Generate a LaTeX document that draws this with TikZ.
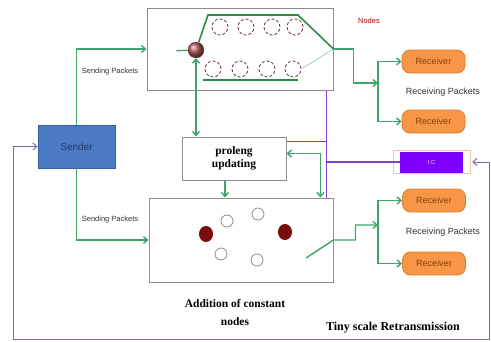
\documentclass[tikz,border=0pt]{standalone}
\usepackage{fontspec}
\setmainfont{Liberation Serif}
\setsansfont{Liberation Sans}
\usepackage{xcolor}
\usetikzlibrary{arrows.meta, positioning, calc}
\definecolor{sblue}{HTML}{4A7BC4}
\definecolor{sbluedark}{HTML}{35609E}
\definecolor{stext}{HTML}{1F3A66}
\definecolor{rorange}{HTML}{F79646}
\definecolor{rorangedark}{HTML}{E07C2A}
\definecolor{rtext}{HTML}{8A3F0C}
\definecolor{lgreen}{HTML}{3FA46A}
\definecolor{dgreen}{HTML}{2F8A48}
\definecolor{pviolet}{HTML}{8040D0}
\definecolor{icviolet}{HTML}{7F00FF}
\definecolor{lpurple}{HTML}{8068B0}
\definecolor{kframe}{HTML}{8C8C8C}
\definecolor{dring}{HTML}{6A3A3A}
\definecolor{kred}{HTML}{7A0C0C}
\definecolor{peach}{HTML}{F2C4A0}

\tikzset{
  senderbox/.style={draw=sbluedark, fill=sblue, line width=0.8pt,
    font=\sffamily\fontsize{10}{12}\selectfont, text=stext},
  recvbox/.style={draw=rorangedark, fill=rorange, rounded corners=8pt, line width=0.8pt,
    minimum width=63, minimum height=23, font=\sffamily\fontsize{9}{11}\selectfont, text=rtext},
  panel/.style={draw=kframe, line width=1pt},
  gline/.style={lgreen, line width=1.4pt, -{Straight Barb[length=4pt,width=7pt]}},
  gplain/.style={lgreen, line width=1.4pt},
  gdark/.style={dgreen, line width=1.6pt},
  pline/.style={pviolet, line width=1.5pt},
  lpline/.style={lpurple, line width=1pt},
  ringdash/.style={dring, densely dashed, line width=0.8pt},
  lbl/.style={font=\sffamily\fontsize{7.5}{9}\selectfont, text=black!80},
}

\begin{document}
\begin{tikzpicture}[x=1pt, y=-1pt]
  \useasboundingbox (0,0) rectangle (491,341);

  %% boxes
  \node[senderbox, minimum width=77, minimum height=43] (sender) at (76.5,146.5) {Sender};
  \node[panel, minimum width=186, minimum height=82] (topbox) at (240,49) {};
  \node[panel, minimum width=104, minimum height=43, align=center,
    font=\bfseries\fontsize{11.5}{12.5}\selectfont] (prolong) at (234,158.5) {proleng\\updating};
  \node[panel, minimum width=184, minimum height=84] (botbox) at (241,240) {};

  %% receivers
  \node[recvbox] (recv1) at (433.5,61.5) {Receiver};
  \node[recvbox] (recv2) at (433.5,121.5) {Receiver};
  \node[recvbox] (recv3) at (434,200.5) {Receiver};
  \node[recvbox] (recv4) at (434,263.5) {Receiver};

  %% I.C box
  \node[fill=icviolet, minimum width=63, minimum height=21, text=white!85!icviolet,
    font=\sffamily\fontsize{6}{7}\selectfont] (IC) at (431.5,162) {I.C};
  \draw[peach, line width=0.6pt] ([xshift=-7pt,yshift=-1pt]IC.south west) rectangle ([xshift=7pt,yshift=1pt]IC.north east);

  %% labels
  \node[lbl] (sendA) at (110,72) {Sending Packets};
  \node[lbl] (sendB) at (110,220) {Sending Packets};
  \node[lbl, font=\sffamily\fontsize{9}{10}\selectfont] (recvA) at (443,92) {Receiving Packets};
  \node[lbl, font=\sffamily\fontsize{9}{10}\selectfont] (recvB) at (443,232) {Receiving Packets};
  \node[font=\sffamily\fontsize{7.5}{9}\selectfont, text=red!70!black] (nodeslab) at (369,21) {Nodes};
  \node[font=\bfseries\fontsize{11.5}{18}\selectfont, align=center] (addlab) at (235,313) {Addition of constant\\nodes};
  \node[font=\bfseries\fontsize{12}{13}\selectfont] (tinylab) at (393,328) {Tiny scale Retransmission};

  %% inside the node box
  \node[circle, ringdash, minimum size=18] (dA) at (167,51) {};
  \node[circle, draw=dring, densely dashed, shading=ball, ball color={rgb,255:red,170;green,85;blue,80},
    minimum size=16, inner sep=0pt] (ball) at (196,50) {};
  \foreach \x in {220,246,272,295}{
    \draw[ringdash] (\x,27) circle (8pt);
  }
  \foreach \x in {213,240,267,293}{
    \draw[ringdash] (\x,69) circle (8pt);
  }
  \draw[gplain] (dA) -- (ball);
  \draw[gdark] (ball) -- (208,15) -- (298,15) -- (topbox.east);
  \draw[gdark] (203,80) -- (298,80);
  \draw[lgreen!60, line width=0.6pt] (303,68) -- (topbox.east);

  %% inside the constant box
  \foreach \x/\y in {227/221, 258/214, 221/254, 257/260}{
    \draw[kframe, line width=0.8pt] (\x,\y) circle (6pt);
  }
  \foreach \x/\y in {206/234, 285/232}{
    \fill[kred] (\x,\y) ellipse (7pt and 8pt);
  }

  %% coordinates
  \coordinate (pvtop) at ([xshift=-7pt]topbox.south east);
  \coordinate (pvbot) at ([xshift=-7pt]botbox.north east);
  \coordinate (pin) at ([yshift=-5pt]prolong.north east);
  \coordinate (tbus) at (378,83);
  \coordinate (bbus) at (378,225);
  \coordinate (bin) at (306,258);
  \coordinate (loopL) at (13,339);
  \coordinate (loopR) at (489,339);

  %% sending packets
  \draw[gline] (sender.north) |- (topbox.west);
  \draw[gline] (sender.south) |- (botbox.west);

  %% prolong updating links
  \draw[gline, {Straight Barb[length=4pt,width=7pt]}-{Straight Barb[length=4pt,width=7pt]}]
    (ball.south) -- (ball.south |- prolong.north);
  \draw[gline] ([xshift=-9pt]prolong.south) -- ([xshift=-9pt]prolong.south |- botbox.north);
  \draw[gline, {Straight Barb[length=4pt,width=7pt]}-{Straight Barb[length=4pt,width=7pt]}]
    ([yshift=5pt]prolong.east) -| ([xshift=-13pt]botbox.north east);

  %% purple links
  \draw[pline] (pvtop) -- (pvbot);
  \draw[pline] (pin) -- (pin -| pvtop);
  \draw[pline] (IC.west -| pvtop) -- (IC.west);

  %% to receivers
  \draw[gline] (topbox.east) -- ++(20,0) |- (tbus);
  \draw[gline] (tbus) |- (recv1.west);
  \draw[gline] (tbus) |- (recv2.west);
  \draw[gline] (bin) -- (botbox.east) -- ++(22,0) |- (bbus);
  \draw[gline] (bbus) |- (recv3.west);
  \draw[gline] (bbus) |- (recv4.west);

  %% retransmission loop
  \draw[lpline, {Straight Barb[length=4pt,width=7pt]}-{Straight Barb[length=4pt,width=7pt]}]
    ([xshift=9pt]IC.east) -- (IC.east -| loopR) -- (loopR) -- (loopL) |- (sender.west);

\end{tikzpicture}
\end{document}
